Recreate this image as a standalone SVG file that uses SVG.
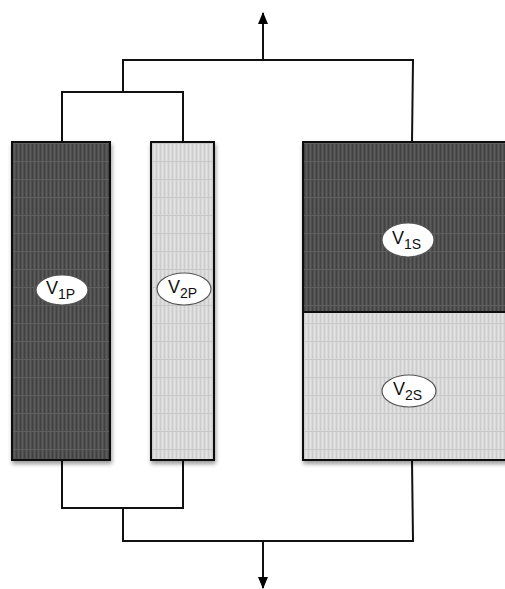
<svg xmlns="http://www.w3.org/2000/svg" width="505" height="589" viewBox="0 0 505 589">
<defs>
<pattern id="pd" width="4" height="18" patternUnits="userSpaceOnUse">
<rect width="4" height="18" fill="#505050"/>
<rect x="0" width="1" height="18" fill="#424242"/>
<rect x="2" width="1" height="18" fill="#5c5c5c"/>
<rect y="17" width="4" height="1" fill="#5e5e5e"/>
</pattern>
<pattern id="pl" width="4" height="18" patternUnits="userSpaceOnUse">
<rect width="4" height="18" fill="#d9d9d9"/>
<rect x="0" width="1" height="18" fill="#cccccc"/>
<rect x="2" width="1" height="18" fill="#e2e2e2"/>
<rect y="17" width="4" height="1" fill="#c8c8c8"/>
</pattern>
<filter id="sh" x="-10%" y="-5%" width="130%" height="115%">
<feGaussianBlur in="SourceAlpha" stdDeviation="2"/>
<feOffset dx="1" dy="3"/>
<feComponentTransfer><feFuncA type="linear" slope="0.4"/></feComponentTransfer>
<feMerge><feMergeNode/><feMergeNode in="SourceGraphic"/></feMerge>
</filter>
<marker id="ah" viewBox="0 0 12 10" refX="11" refY="5" markerWidth="12" markerHeight="10" markerUnits="userSpaceOnUse" orient="auto">
<path d="M0,0 L12,5 L0,10 Z" fill="#000"/>
</marker>
<style>
.ln{fill:none;stroke:#111;stroke-width:2}
.bx{stroke:#111;stroke-width:2}
.el{fill:#fff;stroke:#555;stroke-width:1.2}
.t{font-family:"Liberation Sans",Arial,sans-serif;font-size:18px;fill:#111}
.s{font-size:14px}
</style>
</defs>
<g id="connectors">
<path class="ln" d="M263,60 L263,13" marker-end="url(#ah)"/>
<path class="ln" d="M123,92 L123,60 L413,60 L412,142"/>
<path class="ln" d="M62,142 L62,92 L183,92 L183,142"/>
<path class="ln" d="M62,460 L62,508 L183,508 L183,460"/>
<path class="ln" d="M123,508 L123,541 L413,541 L412,460"/>
<path class="ln" d="M263,541 L263,588" marker-end="url(#ah)"/>
</g>
<g id="v1p">
<rect class="bx" x="12" y="142" width="98" height="318" fill="url(#pd)" filter="url(#sh)"/>
<ellipse class="el" cx="62" cy="290" rx="26" ry="15"/>
<text class="t" x="46" y="294">V<tspan class="s" dy="5">1P</tspan></text>
</g>
<g id="v2p">
<rect class="bx" x="151" y="142" width="63" height="318" fill="url(#pl)" filter="url(#sh)"/>
<ellipse class="el" cx="184" cy="289" rx="27" ry="16"/>
<text class="t" x="168" y="293">V<tspan class="s" dy="5">2P</tspan></text>
</g>
<g id="tank" filter="url(#sh)">
<rect class="bx" x="303" y="142" width="210" height="318" fill="url(#pl)"/>
<rect x="304" y="143" width="210" height="169" fill="url(#pd)"/>
<line x1="303" y1="312" x2="513" y2="312" stroke="#111" stroke-width="2"/>
</g>
<g id="v1s">
<ellipse class="el" cx="408" cy="240" rx="26" ry="17"/>
<text class="t" x="392" y="244">V<tspan class="s" dy="5">1S</tspan></text>
</g>
<g id="v2s">
<ellipse class="el" cx="409" cy="391" rx="27" ry="16"/>
<text class="t" x="393" y="395">V<tspan class="s" dy="5">2S</tspan></text>
</g>
</svg>
